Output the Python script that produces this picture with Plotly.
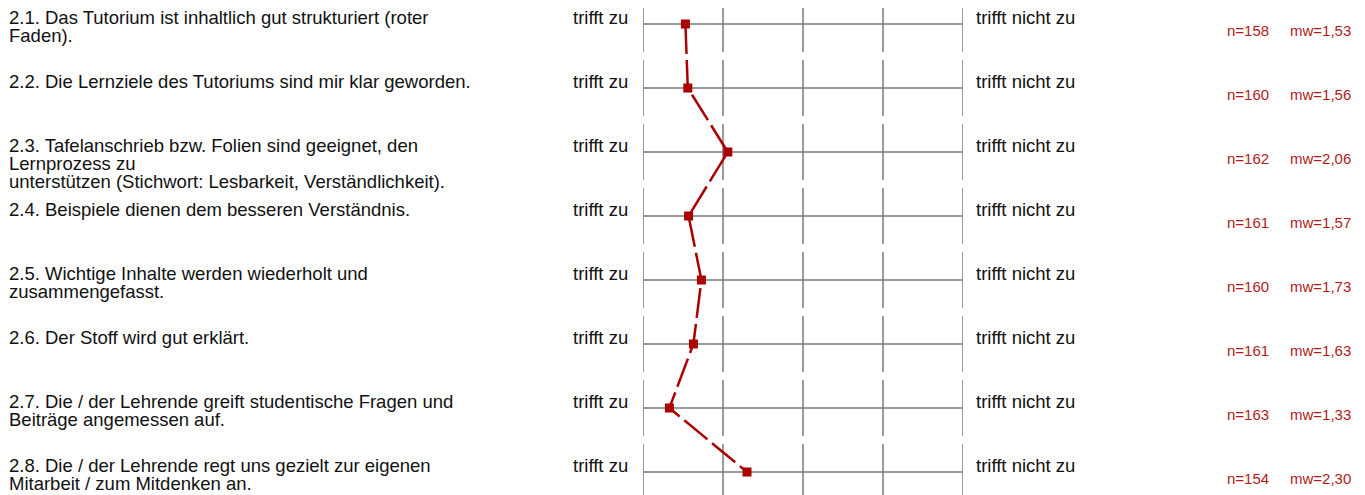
import plotly.graph_objects as go

# ---- data ----
labels = [
    "2.1. Das Tutorium ist inhaltlich gut strukturiert (roter\nFaden).",
    "2.2. Die Lernziele des Tutoriums sind mir klar geworden.",
    "2.3. Tafelanschrieb bzw. Folien sind geeignet, den\nLernprozess zu\nunterstützen (Stichwort: Lesbarkeit, Verständlichkeit).",
    "2.4. Beispiele dienen dem besseren Verständnis.",
    "2.5. Wichtige Inhalte werden wiederholt und\nzusammengefasst.",
    "2.6. Der Stoff wird gut erklärt.",
    "2.7. Die / der Lehrende greift studentische Fragen und\nBeiträge angemessen auf.",
    "2.8. Die / der Lehrende regt uns gezielt zur eigenen\nMitarbeit / zum Mitdenken an.",
]
means = [1.53, 1.56, 2.06, 1.57, 1.73, 1.63, 1.33, 2.30]
counts = [158, 160, 162, 161, 160, 161, 163, 154]
mean_text = ["1,53", "1,56", "2,06", "1,57", "1,73", "1,63", "1,33", "2,30"]
left_pole = "trifft zu"
right_pole = "trifft nicht zu"
scale_ticks = [1, 2, 3, 4, 5]

# ---- layout constants (figure pixels; the page adds an 8px body margin) ----
W, H = 1357, 487
ROW0, ROWH = 16, 64          # pixel centre of first row, row pitch
rows = list(range(len(labels)))
y_top = -ROW0 / ROWH
y_bot = (H - ROW0) / ROWH
half_seg = 28 / ROWH

RED = "#aa0000"
TXT_RED = "#b01c1c"
GRID = "#7a7a7a"
FONT = "Liberation Sans, Arial, Helvetica, sans-serif"
FS = 18.5
FS_R = 15
LINE_H = 18.0
MID = 6.4                     # baseline -> text middle offset

def px_x(px):
    return px / W

fig = go.Figure()

fig.add_trace(go.Scatter(
    x=means, y=rows, mode="lines+markers",
    line=dict(color=RED, width=2.5, dash="30px,6px"),
    marker=dict(symbol="square", size=9, color=RED, line=dict(width=0)),
    hoverinfo="skip", showlegend=False,
))

shapes = []
for i in rows:
    shapes.append(dict(type="line", xref="x", yref="y", x0=scale_ticks[0], x1=scale_ticks[-1],
                       y0=i, y1=i, line=dict(color=GRID, width=1.5), layer="below"))
    for t in scale_ticks:
        shapes.append(dict(type="line", xref="x", yref="y", x0=t, x1=t,
                           y0=i - half_seg, y1=i + half_seg,
                           line=dict(color=GRID, width=1.5), layer="below"))

annotations = []
for i, lab in enumerate(labels):
    for k, line in enumerate(lab.split("\n")):
        annotations.append(dict(
            xref="paper", yref="y", x=px_x(0), y=i + (k * LINE_H - MID) / ROWH,
            xanchor="left", yanchor="middle", text=line, showarrow=False,
            font=dict(family=FONT, size=FS, color="#111111"), borderpad=0))
    annotations.append(dict(
        xref="paper", yref="y", x=px_x(621), y=i - MID / ROWH,
        xanchor="right", yanchor="middle", text=left_pole, showarrow=False,
        font=dict(family=FONT, size=FS, color="#111111"), borderpad=0))
    annotations.append(dict(
        xref="paper", yref="y", x=px_x(967), y=i - MID / ROWH,
        xanchor="left", yanchor="middle", text=right_pole, showarrow=False,
        font=dict(family=FONT, size=FS, color="#111111"), borderpad=0))
    annotations.append(dict(
        xref="paper", yref="y", x=px_x(1218), y=i + 6.5 / ROWH,
        xanchor="left", yanchor="middle", text=f"n={counts[i]}", showarrow=False,
        font=dict(family=FONT, size=FS_R, color=TXT_RED), borderpad=0))
    annotations.append(dict(
        xref="paper", yref="y", x=px_x(1344), y=i + 6.5 / ROWH,
        xanchor="right", yanchor="middle", text=f"mw={mean_text[i]}", showarrow=False,
        font=dict(family=FONT, size=FS_R, color=TXT_RED), borderpad=0))

fig.update_layout(
    width=W, height=H, margin=dict(l=0, r=0, t=0, b=0),
    paper_bgcolor="white", plot_bgcolor="white",
    xaxis=dict(domain=[635 / W, 955 / W], range=[scale_ticks[0], scale_ticks[-1]],
               visible=False, fixedrange=True),
    yaxis=dict(domain=[0, 1], range=[y_bot, y_top], visible=False, fixedrange=True),
    shapes=shapes, annotations=annotations,
)
fig.write_html("out.html")
